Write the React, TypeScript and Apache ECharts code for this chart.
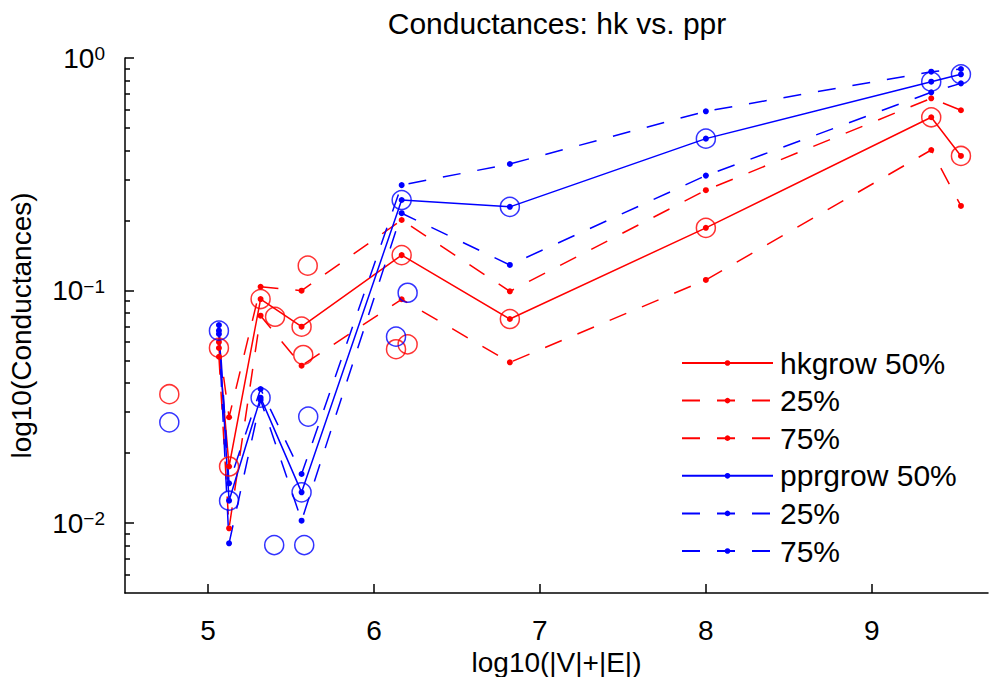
import { useEffect, useRef } from 'react';
import * as echarts from 'echarts';

const FONT = '"Liberation Sans", Arial, Helvetica, sans-serif';
const RED = '#ff0000';
const BLUE = '#0000ff';

// x positions: log10(|V|+|E|)
const xVals = [5.066, 5.127, 5.317, 5.564, 6.167, 6.819, 8.0, 9.358, 9.537];

// hkgrow quantiles
const hk50 = [0.0566, 0.0175, 0.0919, 0.0699, 0.142, 0.0754, 0.186, 0.556, 0.379];
const hk25 = [0.0519, 0.00949, 0.0779, 0.0475, 0.0917, 0.0491, 0.111, 0.402, 0.231];
const hk75 = [0.06, 0.0285, 0.1038, 0.0998, 0.201, 0.0992, 0.27, 0.671, 0.596];

// pprgrow quantiles
const ppr50 = [0.0672, 0.01247, 0.0346, 0.01355, 0.245, 0.229, 0.45, 0.791, 0.851];
const ppr25 = [0.065, 0.00818, 0.0338, 0.01023, 0.215, 0.1288, 0.312, 0.712, 0.778];
const ppr75 = [0.071, 0.01482, 0.0377, 0.01625, 0.284, 0.35, 0.59, 0.873, 0.897];

// extra open-circle points
const hkExtraX = [4.767, 5.404, 5.574, 5.601, 6.133, 6.203];
const hkExtraY = [0.0358, 0.0771, 0.0528, 0.1279, 0.0559, 0.0587];
const pprExtraX = [4.767, 5.399, 5.58, 5.604, 6.133, 6.203];
const pprExtraY = [0.0271, 0.00804, 0.00804, 0.0287, 0.0633, 0.0978];

// axis ticks
const xTicks = [5, 6, 7, 8, 9];
const yMajor = [0.01, 0.1, 1];
const yMinor = [0.006, 0.007, 0.008, 0.009, 0.02, 0.03, 0.04, 0.05, 0.06, 0.07, 0.08, 0.09, 0.2, 0.3, 0.4, 0.5, 0.6, 0.7, 0.8, 0.9];

const legendNames = ['hkgrow 50%', 'hkgrow 25%', 'hkgrow 75%', 'pprgrow 50%', 'pprgrow 25%', 'pprgrow 75%'];
const legendLabels: Record<string, string> = {
  'hkgrow 50%': 'hkgrow 50%',
  'hkgrow 25%': '25%',
  'hkgrow 75%': '75%',
  'pprgrow 50%': 'pprgrow 50%',
  'pprgrow 25%': '25%',
  'pprgrow 75%': '75%',
};

function lineSeries(name: string, ys: number[], color: string, dashed: boolean) {
  return {
    type: 'line',
    name,
    data: xVals.map((x, i) => [x, ys[i]]),
    symbol: 'circle',
    symbolSize: 6,
    showAllSymbol: true,
    itemStyle: { color },
    lineStyle: { color, width: 1.5, type: dashed ? [18, 17] : 'solid' },
    emphasis: { disabled: true },
    z: 3,
  };
}

function circleSeries(name: string, xs: number[], ys: number[], color: string) {
  return {
    type: 'scatter',
    name,
    data: xs.map((x, i) => [x, ys[i]]),
    symbol: 'circle',
    symbolSize: 19,
    itemStyle: { color: 'rgba(0,0,0,0)', borderColor: color, borderWidth: 1.5 },
    emphasis: { disabled: true },
    silent: true,
    z: 4,
  };
}

export default function App() {
  const ref = useRef<HTMLDivElement>(null);
  useEffect(() => {
    const chart = echarts.init(ref.current!, null, { renderer: 'svg' });
    const option = {
      animation: false,
      backgroundColor: '#ffffff',
      textStyle: { fontFamily: FONT },
      title: {
        text: 'Conductances: hk vs. ppr',
        left: 552,
        top: 3,
        textAlign: 'center',
        textStyle: { fontSize: 30, fontWeight: 'normal', color: '#000', fontFamily: FONT },
      },
      grid: { left: 125, right: 11, top: 58, bottom: 84, containLabel: false, outerBoundsMode: 'none' },
      legend: {
        orient: 'vertical',
        left: 681,
        top: 348,
        padding: 0,
        itemWidth: 91,
        itemHeight: 7,
        itemGap: 7.6,
        data: legendNames,
        formatter: (n: string) => legendLabels[n] || n,
        textStyle: { fontSize: 30, color: '#000', fontFamily: FONT, lineHeight: 24, padding: [0, 0, 0, 2] },
        selectedMode: false,
      },
      xAxis: {
        type: 'value',
        min: 4.5,
        max: 9.7,
        name: 'log10(|V|+|E|)',
        nameLocation: 'middle',
        nameGap: 45,
        nameTextStyle: { fontSize: 28, color: '#000', fontFamily: FONT },
        axisLine: { lineStyle: { color: '#000', width: 1.5 } },
        axisTick: { inside: true, length: 9, customValues: xTicks, lineStyle: { color: '#000', width: 1.5 } },
        axisLabel: { customValues: xTicks, fontSize: 28, color: '#000', margin: 23, fontFamily: FONT },
        splitLine: { show: false },
      },
      yAxis: [
        {
          type: 'log',
          logBase: 10,
          min: 0.005,
          max: 1,
          position: 'left',
          name: 'log10(Conductances)',
          nameLocation: 'middle',
          nameGap: 90,
          nameTextStyle: { fontSize: 28, color: '#000', fontFamily: FONT },
          axisLine: { show: true, lineStyle: { color: '#000', width: 1.5 } },
          axisTick: { inside: true, length: 9, customValues: yMajor, lineStyle: { color: '#000', width: 1.5 } },
          axisLabel: {
            customValues: yMajor,
            margin: 20,
            formatter: (v: number) => {
              const e = Math.round(Math.log10(v));
              const s = e < 0 ? '\u2212' + -e : String(e);
              return '{b|10}{s|' + s + '}';
            },
            rich: {
              b: { fontSize: 28, lineHeight: 28, color: '#000', fontFamily: FONT, verticalAlign: 'middle', padding: [11, 0, 11, 0] },
              s: { fontSize: 19, lineHeight: 19, color: '#000', fontFamily: FONT, verticalAlign: 'top' },
            },
          },
          splitLine: { show: false },
        },
        {
          type: 'log',
          logBase: 10,
          min: 0.005,
          max: 1,
          position: 'left',
          axisLine: { show: false },
          axisTick: { inside: true, length: 5, customValues: yMinor, lineStyle: { color: '#000', width: 1.5 } },
          axisLabel: { show: false },
          splitLine: { show: false },
        },
      ],
      series: [
        lineSeries('hkgrow 50%', hk50, RED, false),
        lineSeries('hkgrow 25%', hk25, RED, true),
        lineSeries('hkgrow 75%', hk75, RED, true),
        lineSeries('pprgrow 50%', ppr50, BLUE, false),
        lineSeries('pprgrow 25%', ppr25, BLUE, true),
        lineSeries('pprgrow 75%', ppr75, BLUE, true),
        circleSeries('hk circles', [...xVals, ...hkExtraX], [...hk50, ...hkExtraY], RED),
        circleSeries('ppr circles', [...xVals, ...pprExtraX], [...ppr50, ...pprExtraY], BLUE),
      ],
    };
    chart.setOption(option as any);
    return () => chart.dispose();
  }, []);
  return <div ref={ref} style={{ position: 'fixed', left: 0, top: 0, width: 999, height: 677 }} />;
}
